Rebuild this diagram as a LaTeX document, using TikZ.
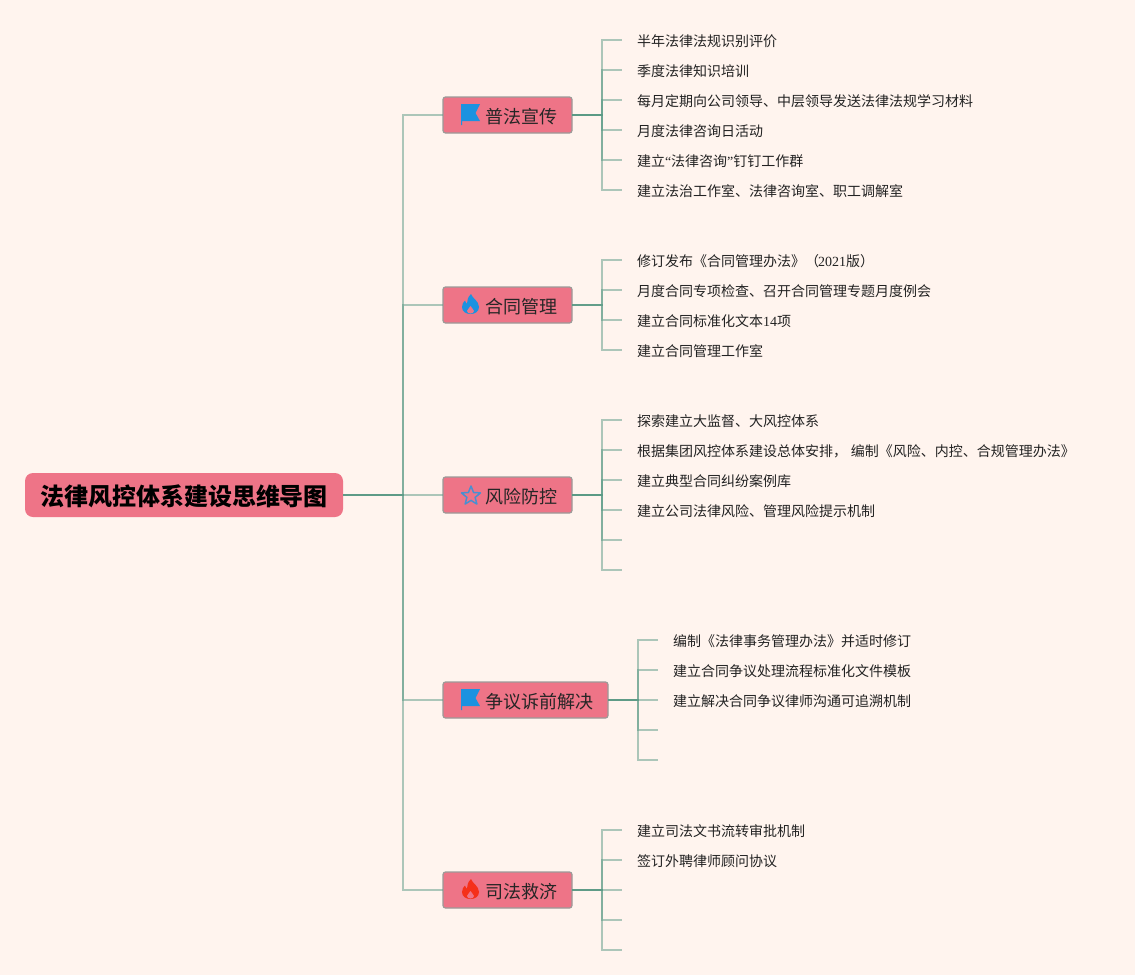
\documentclass[tikz,border=0pt]{standalone}
\usepackage{fontspec}
\setmainfont{Noto Sans CJK SC}
\newfontfamily\ser{Liberation Serif}
\usetikzlibrary{shapes.geometric}
\definecolor{bgc}{HTML}{FFF4EE}
\definecolor{pinkc}{HTML}{EE7487}
\definecolor{linec}{HTML}{5A9A85}
\definecolor{borderc}{HTML}{9C9A98}
\definecolor{flagc}{HTML}{1C92E0}
\definecolor{starc}{HTML}{4A8FD0}
\definecolor{redc}{HTML}{F5301A}
\definecolor{txtc}{HTML}{222222}
\tikzset{
  x=1pt,y=-1pt,
  conn/.style={draw=linec,line width=1.5pt,opacity=.5},
  rootbox/.style={anchor=west,fill=pinkc,rounded corners=8pt,inner xsep=15pt,inner ysep=0pt,minimum height=44pt,outer sep=0pt,
    font=\fontsize{24}{28}\selectfont\bfseries,text=black,text height=21pt,text depth=1pt},
  branchbox/.style={anchor=west,fill=pinkc,draw=borderc,line width=1.2pt,rounded corners=2.5pt,inner xsep=14.5pt,inner ysep=0pt,minimum height=36pt,outer sep=0pt,
    font=\fontsize{18}{22}\selectfont,text=black!85,text height=16pt,text depth=0pt},
  leaf/.style={anchor=west,inner xsep=15pt,inner ysep=0pt,outer sep=0pt,font=\fontsize{14}{18}\selectfont,text=txtc,text height=12pt,text depth=0pt},
}
\newcommand{\flagicon}[2]{\begin{scope}[shift={(#1,#2)}]
  \fill[flagc] (0,0) -- (19,0) -- (14.5,9) -- (19,17) -- (1,17) -- (1,21) -- (0,21) -- cycle;
\end{scope}}
\newcommand{\flameicon}[3]{\begin{scope}[shift={(#1,#2)}]
  \fill[#3] (9,0) .. controls (10,4) and (17,7) .. (17,13) .. controls (17,17.5) and (13,20) .. (8.5,20) .. controls (4,20) and (0,17.5) .. (0,13) .. controls (0,10) and (1.5,8) .. (3,6.5) .. controls (3.5,8) and (4,9) .. (5,9.5) .. controls (5,6) and (6,3) .. (9,0) -- cycle;
  \fill[pinkc] (8.5,12) .. controls (9,14) and (12,15) .. (12,17) .. controls (12,18.5) and (10,19.5) .. (8.5,19.5) .. controls (7,19.5) and (5,18.5) .. (5,17) .. controls (5,15) and (8,14) .. (8.5,12) -- cycle;
\end{scope}}
\begin{document}
\begin{tikzpicture}
\fill[bgc] (0,0) rectangle (1135,975);
\useasboundingbox (0,0) rectangle (1135,975);
% nodes
\node[rootbox] (root) at (25,495) {法律风控体系建设思维导图};
\node[branchbox] (b1) at (443,115) {\hspace*{28pt}普法宣传};
\node[branchbox] (b2) at (443,305) {\hspace*{28pt}合同管理};
\node[branchbox] (b3) at (443,495) {\hspace*{28pt}风险防控};
\node[branchbox] (b4) at (443,700) {\hspace*{28pt}争议诉前解决};
\node[branchbox] (b5) at (443,890) {\hspace*{28pt}司法救济};
% leaves
\node[leaf] (a1) at (622,40) {半年法律法规识别评价};
\node[leaf] (a2) at (622,70) {季度法律知识培训};
\node[leaf] (a3) at (622,100) {每月定期向公司领导、中层领导发送法律法规学习材料};
\node[leaf] (a4) at (622,130) {月度法律咨询日活动};
\node[leaf] (a5) at (622,160) {建立{\ser “}法律咨询{\ser ”}钉钉工作群};
\node[leaf] (a6) at (622,190) {建立法治工作室、法律咨询室、职工调解室};
\node[leaf] (c1) at (622,260) {修订发布《合同管理办法》（\kern-1pt{\ser 2021}版）};
\node[leaf] (c2) at (622,290) {月度合同专项检查、召开合同管理专题月度例会};
\node[leaf] (c3) at (622,320) {建立合同标准化文本{\ser 14}项};
\node[leaf] (c4) at (622,350) {建立合同管理工作室};
\node[leaf] (d1) at (622,420) {探索建立大监督、大风控体系};
\node[leaf] (d2) at (622,450) {根据集团风控体系建设总体安排，\hspace{4pt}编制《风险、内控、合规管理办法》};
\node[leaf] (d3) at (622,480) {建立典型合同纠纷案例库};
\node[leaf] (d4) at (622,510) {建立公司法律风险、管理风险提示机制};
\coordinate (d5) at (622,540);
\coordinate (d6) at (622,570);
\node[leaf] (e1) at (658,640) {编制《法律事务管理办法》并适时修订};
\node[leaf] (e2) at (658,670) {建立合同争议处理流程标准化文件模板};
\node[leaf] (e3) at (658,700) {建立解决合同争议律师沟通可追溯机制};
\coordinate (e4) at (658,730);
\coordinate (e5) at (658,760);
\node[leaf] (f1) at (622,830) {建立司法文书流转审批机制};
\node[leaf] (f2) at (622,860) {签订外聘律师顾问协议};
\coordinate (f3) at (622,890);
\coordinate (f4) at (622,920);
\coordinate (f5) at (622,950);
% connectors
\foreach \b in {b1,b2,b3,b4,b5}
  \draw[conn] (root.east) -- ++(60,0) |- (\b.west);
\foreach \l in {a1.west,a2.west,a3.west,a4.west,a5.west,a6.west}
  \draw[conn] (b1.east) -- ++(30,0) |- (\l);
\foreach \l in {c1.west,c2.west,c3.west,c4.west}
  \draw[conn] (b2.east) -- ++(30,0) |- (\l);
\foreach \l in {d1.west,d2.west,d3.west,d4.west,d5,d6}
  \draw[conn] (b3.east) -- ++(30,0) |- (\l);
\foreach \l in {e1.west,e2.west,e3.west,e4,e5}
  \draw[conn] (b4.east) -- ++(30,0) |- (\l);
\foreach \l in {f1.west,f2.west,f3,f4,f5}
  \draw[conn] (b5.east) -- ++(30,0) |- (\l);
% icons
\flagicon{461}{104}
\flameicon{462}{294}{flagc}
\node[star,star points=5,star point ratio=2.3,draw=starc,line width=1.5pt,line join=round,inner sep=0pt,minimum size=20pt] (star3) at (471,496) {};
\flagicon{461}{689}
\flameicon{462}{879}{redc}
\end{tikzpicture}
\end{document}
